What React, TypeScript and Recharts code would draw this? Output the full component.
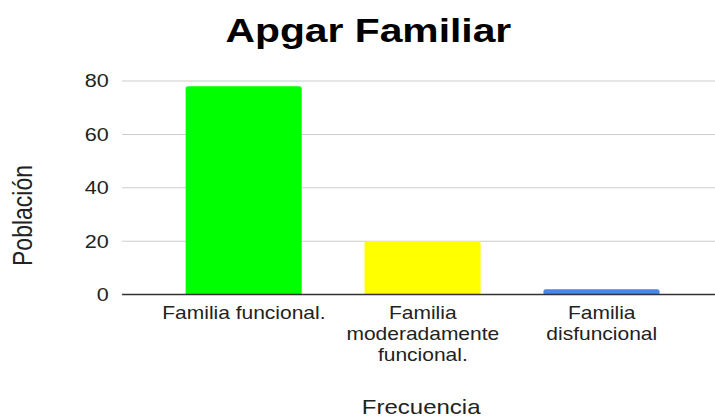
import React from 'react';
import { BarChart, Bar, XAxis, YAxis, CartesianGrid, Cell } from 'recharts';

const categories = ['Familia funcional.', 'Familia moderadamente funcional.', 'Familia disfuncional'];
const tickLines = [['Familia funcional.'], ['Familia', 'moderadamente', 'funcional.'], ['Familia', 'disfuncional']];
const poblacion = [78, 20, 2];
const barColors = ['#00ff00', '#ffff00', '#4a86e8'];
const yTicks = [0, 20, 40, 60, 80];

const data = categories.map((c, i) => ({ name: c, value: poblacion[i] }));

const FONT = '"Liberation Sans", Arial, sans-serif';
const SX = 1.2;

const XTick = (props: any) => {
  const { x, y, payload } = props;
  const idx = categories.indexOf(payload.value);
  const lines = idx >= 0 ? tickLines[idx] : [String(payload.value)];
  return (
    <text x={x} y={y + 24.9} textAnchor="middle" fontSize={17.5} fill="#222" fontFamily={FONT}>
      {lines.map((l, i) => (
        <tspan key={i} x={x} dy={i === 0 ? 0 : 20.8}>
          {l}
        </tspan>
      ))}
    </text>
  );
};

export default function App() {
  return (
    <div style={{ position: 'absolute', left: 0, top: 0, width: 715, height: 418, overflow: 'hidden', background: '#fff' }}>
      <div style={{ transform: `scaleX(${SX})`, transformOrigin: '0 0', width: 600 }}>
        <BarChart width={600} height={418} data={data} margin={{ top: 81, right: 0, left: 0, bottom: 0 }}>
          <CartesianGrid vertical={false} stroke="#cccccc" strokeWidth={1} />
          <XAxis
            dataKey="name"
            height={123.5}
            padding={{ left: 27, right: 24 }}
            axisLine={{ stroke: '#333', strokeWidth: 1.5 }}
            tickLine={false}
            tickSize={0}
            tickMargin={0}
            interval={0}
            tick={<XTick />}
          />
          <YAxis
            width={101.7}
            domain={[0, 80]}
            ticks={yTicks}
            axisLine={false}
            tickLine={false}
            tickSize={0}
            tickMargin={11}
            tick={{ fontSize: 18, fill: '#222', fontFamily: FONT }}
          />
          <Bar dataKey="value" barSize={96.7} radius={[2, 2, 0, 0]} isAnimationActive={false}>
            {data.map((d, i) => (
              <Cell key={d.name} fill={barColors[i]} />
            ))}
          </Bar>
          <text x={307} y={42} textAnchor="middle" fontSize={34} fontWeight="bold" fontFamily={FONT} fill="#000">
            Apgar Familiar
          </text>
          <text
            x={18.75}
            y={215.5}
            textAnchor="middle"
            dominantBaseline="central"
            transform="rotate(-90 18.75 215.5)"
            fontSize={23}
            fontFamily={FONT}
            fill="#222"
          >
            Población
          </text>
          <text x={351} y={414} textAnchor="middle" fontSize={20} fontFamily={FONT} fill="#222">
            Frecuencia
          </text>
        </BarChart>
      </div>
    </div>
  );
}
